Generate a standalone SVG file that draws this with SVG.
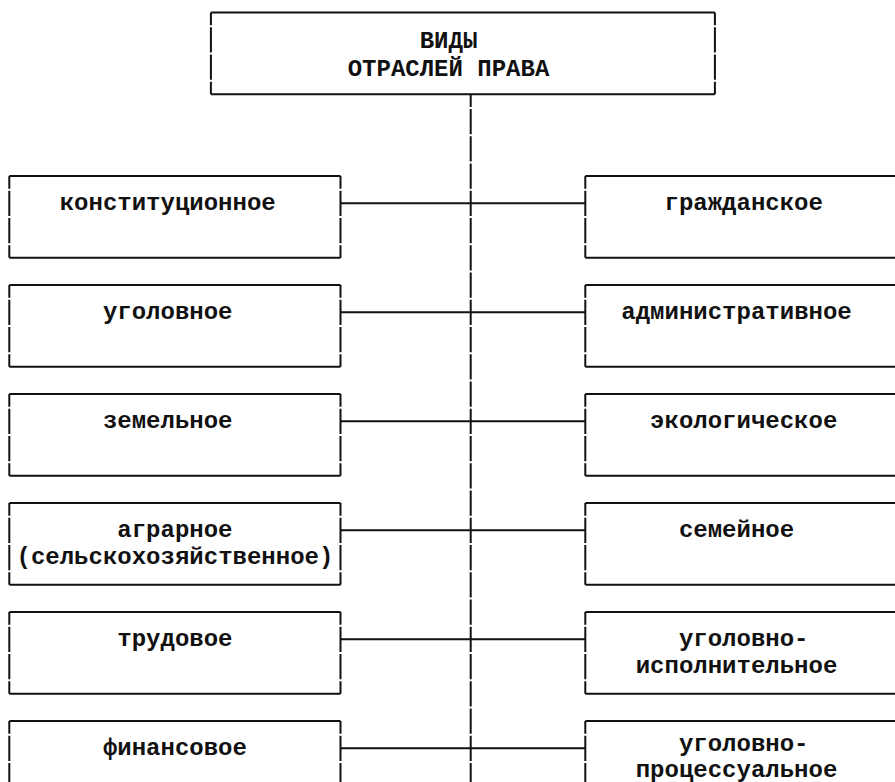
<svg xmlns="http://www.w3.org/2000/svg" width="895" height="782" viewBox="0 0 895 782">
<style>
.h{stroke:#111;stroke-width:2;fill:none}
.v{stroke:#111;stroke-width:2;fill:none;stroke-dasharray:25.25 2;stroke-dashoffset:12.62}
text{font-family:"Liberation Mono","Courier New",monospace;font-weight:bold;font-size:24px;fill:#111}
</style>
<rect width="895" height="782" fill="#fff"/>
<g id="connectors">
<path class="v" d="M470.7 94.25V782"/>
<path class="h" d="M340.5 203.25H585.3M340.5 312.25H585.3M340.5 421.25H585.3M340.5 530.25H585.3M340.5 639.25H585.3M340.5 748.25H585.3"/>
</g>
<g id="root">
<path class="h" d="M210.9 12.5H714.9M210.9 94.25H714.9"/>
<path class="v" d="M210.9 12.5V94.25M714.9 12.5V94.25"/>
<text x="419.7" y="48.25">ВИДЫ</text>
<text x="347.7" y="75.5">ОТРАСЛЕЙ ПРАВА</text>
</g>
<g id="konst">
<path class="h" d="M9.3 176H340.5M9.3 257.75H340.5"/>
<path class="v" d="M9.3 176V257.75M340.5 176V257.75"/>
<text x="59.7" y="209.75">конституционное</text>
</g>
<g id="ugol">
<path class="h" d="M9.3 285H340.5M9.3 366.75H340.5"/>
<path class="v" d="M9.3 285V366.75M340.5 285V366.75"/>
<text x="102.9" y="318.75">уголовное</text>
</g>
<g id="zem">
<path class="h" d="M9.3 394H340.5M9.3 475.75H340.5"/>
<path class="v" d="M9.3 394V475.75M340.5 394V475.75"/>
<text x="102.9" y="427.75">земельное</text>
</g>
<g id="agr">
<path class="h" d="M9.3 503H340.5M9.3 584.75H340.5"/>
<path class="v" d="M9.3 503V584.75M340.5 503V584.75"/>
<text x="117.3" y="536.75">аграрное</text>
<text x="16.5" y="564">(сельскохозяйственное)</text>
</g>
<g id="trud">
<path class="h" d="M9.3 612H340.5M9.3 693.75H340.5"/>
<path class="v" d="M9.3 612V693.75M340.5 612V693.75"/>
<text x="117.3" y="645.75">трудовое</text>
</g>
<g id="fin">
<path class="h" d="M9.3 721H340.5"/>
<path class="v" d="M9.3 721V782M340.5 721V782"/>
<text x="102.9" y="754.75">финансовое</text>
</g>
<g id="grazh">
<path class="h" d="M585.3 176H895M585.3 257.75H895"/>
<path class="v" d="M585.3 176V257.75"/>
<text x="664.5" y="209.75">гражданское</text>
</g>
<g id="adm">
<path class="h" d="M585.3 285H895M585.3 366.75H895"/>
<path class="v" d="M585.3 285V366.75"/>
<text x="621.3" y="318.75">административное</text>
</g>
<g id="eco">
<path class="h" d="M585.3 394H895M585.3 475.75H895"/>
<path class="v" d="M585.3 394V475.75"/>
<text x="650.1" y="427.75">экологическое</text>
</g>
<g id="sem">
<path class="h" d="M585.3 503H895M585.3 584.75H895"/>
<path class="v" d="M585.3 503V584.75"/>
<text x="678.9" y="536.75">семейное</text>
</g>
<g id="ugisp">
<path class="h" d="M585.3 612H895M585.3 693.75H895"/>
<path class="v" d="M585.3 612V693.75"/>
<text x="678.9" y="645.75">уголовно-</text>
<text x="635.7" y="673">исполнительное</text>
</g>
<g id="ugproc">
<path class="h" d="M585.3 721H895"/>
<path class="v" d="M585.3 721V782"/>
<text x="678.9" y="750.5">уголовно-</text>
<text x="635.7" y="777">процессуальное</text>
</g>
</svg>
